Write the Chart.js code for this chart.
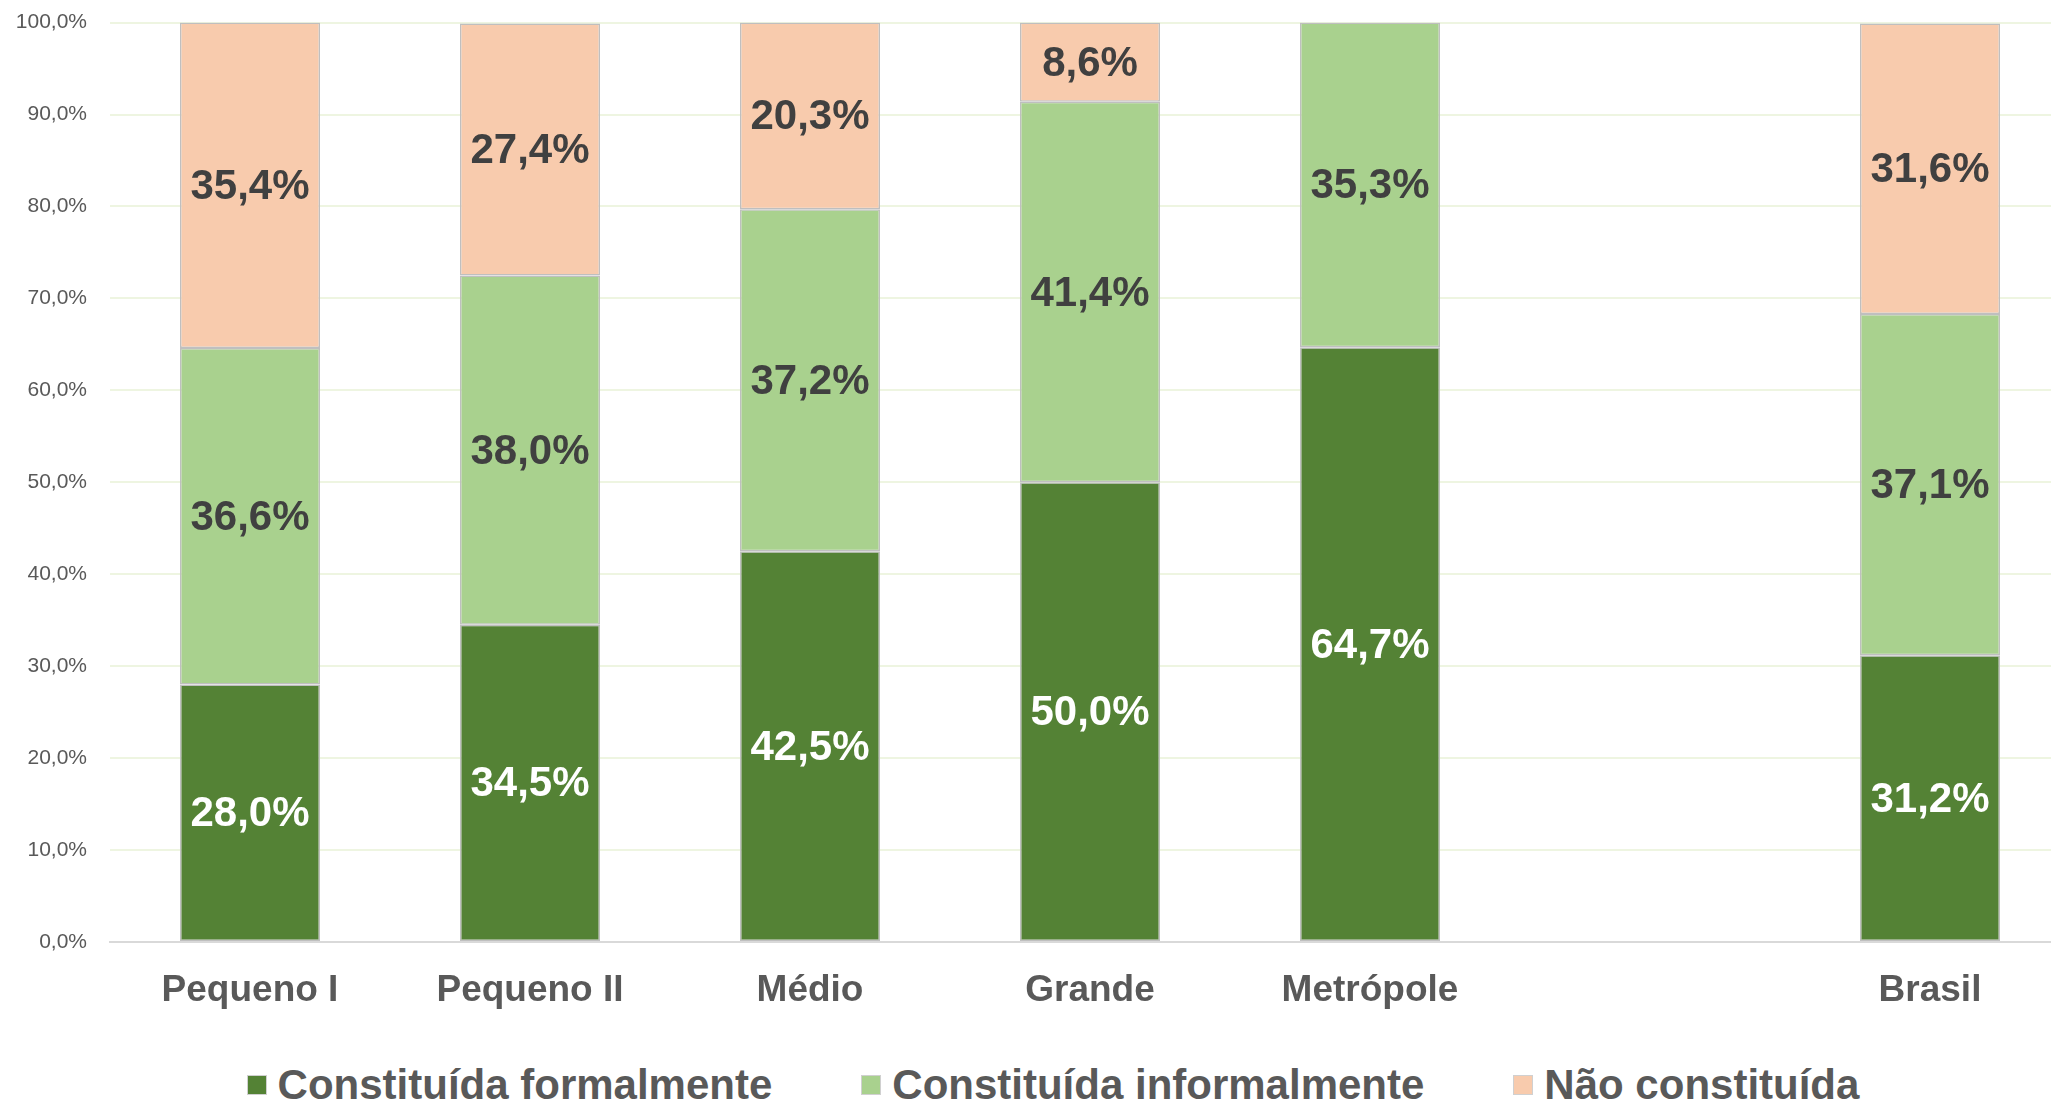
<!DOCTYPE html>
<html>
<head>
<meta charset="utf-8">
<script src="https://cdn.jsdelivr.net/npm/chart.js@4.4.1/dist/chart.umd.min.js"></script>
<style>
  html, body { margin: 0; padding: 0; background: #fff; overflow: hidden; }
  #wrap { width: 2075px; height: 1053px; position: relative; margin-top: -13px; }
  #legenda {
    position: absolute; left: 0; top: 1064px; width: 2106px;
    display: flex; justify-content: center; gap: 89px;
    font: bold 42px 'Liberation Sans', Arial, sans-serif; line-height: 42px; color: #595959;
  }
  #legenda .item { display: flex; align-items: center; white-space: nowrap; }
  #legenda .caixa { width: 20px; height: 20px; margin-right: 11px; box-sizing: border-box; border: 1px solid #D0D0D0; }
</style>
</head>
<body>
<div id="wrap"><canvas id="grafico"></canvas></div>
<div id="legenda"></div>
<script>
// categorias (slot vazio entre Metrópole e Brasil)
const categorias = ["Pequeno I", "Pequeno II", "Médio", "Grande", "Metrópole", "", "Brasil"];

// valores em %
const formal = [28.0, 34.5, 42.5, 50.0, 64.7, null, 31.2];
const informal = [36.6, 38.0, 37.2, 41.4, 35.3, null, 37.1];
const naoConstituida = [35.4, 27.4, 20.3, 8.6, null, null, 31.6];

const yTicks = [0, 10, 20, 30, 40, 50, 60, 70, 80, 90, 100];

const fmt = (v) => v.toFixed(1).replace(".", ",") + "%";

const FONTE = "'Liberation Sans', Arial, sans-serif";

// rótulos dentro das barras
const rotulos = {
    id: "rotulos",
    afterDatasetsDraw(chart) {
        const ctx = chart.ctx;
        ctx.save();
        ctx.font = "bold 42px " + FONTE;
        ctx.textAlign = "center";
        ctx.textBaseline = "middle";
        chart.data.datasets.forEach((ds, i) => {
            const meta = chart.getDatasetMeta(i);
            meta.data.forEach((el, j) => {
                const v = ds.data[j];
                if (v == null || v <= 0) return;
                ctx.fillStyle = i === 0 ? "#ffffff" : "#404040";
                ctx.fillText(fmt(v), el.x, (el.y + el.base) / 2 + 2);
            });
        });
        ctx.restore();
    }
};

// legenda em HTML
const legendaHtml = {
    id: "legendaHtml",
    afterUpdate(chart) {
        const box = document.getElementById("legenda");
        box.innerHTML = "";
        chart.options.plugins.legend.labels.generateLabels(chart).forEach(item => {
            const div = document.createElement("div");
            div.className = "item";
            const caixa = document.createElement("span");
            caixa.className = "caixa";
            caixa.style.background = item.fillStyle;
            const txt = document.createElement("span");
            txt.textContent = item.text;
            div.appendChild(caixa);
            div.appendChild(txt);
            box.appendChild(div);
        });
    }
};

const ctx = document.getElementById("grafico").getContext("2d");
new Chart(ctx, {
    type: "bar",
    data: {
        labels: categorias,
        datasets: [
            { label: "Constituída formalmente", data: formal, backgroundColor: "#548235" },
            { label: "Constituída informalmente", data: informal, backgroundColor: "#A9D18E" },
            { label: "Não constituída", data: naoConstituida, backgroundColor: "#F8CBAD" },
        ].map(d => Object.assign(d, {
            borderColor: "#BFBFBF",
            borderWidth: 1.5,
            borderSkipped: false,
            categoryPercentage: 1,
            barPercentage: 0.5,
        })),
    },
    options: {
        responsive: true,
        maintainAspectRatio: false,
        animation: false,
        layout: { padding: { top: 9, right: 5, left: 0, bottom: 0 } },
        plugins: {
            legend: { display: false },
            tooltip: { enabled: false },
        },
        scales: {
            x: {
                stacked: true,
                grid: { display: false },
                border: { color: "#D9D9D9", width: 2 },
                ticks: {
                    font: { family: FONTE, size: 37, weight: "bold" },
                    color: "#595959",
                    padding: 19,
                    maxRotation: 0,
                },
                afterFit: (s) => { s.height = 98; },
            },
            y: {
                stacked: true,
                min: 0,
                max: 100,
                afterBuildTicks: (s) => { s.ticks = yTicks.map(v => ({ value: v })); },
                grid: { color: "#EEF5E1", lineWidth: 2, drawTicks: false },
                border: { display: false },
                ticks: {
                    font: { family: FONTE, size: 21 },
                    color: "#595959",
                    padding: 23,
                    callback: (v) => fmt(v),
                },
                afterFit: (s) => { s.width = 110; },
            },
        },
    },
    plugins: [rotulos, legendaHtml],
});
</script>
</body>
</html>
